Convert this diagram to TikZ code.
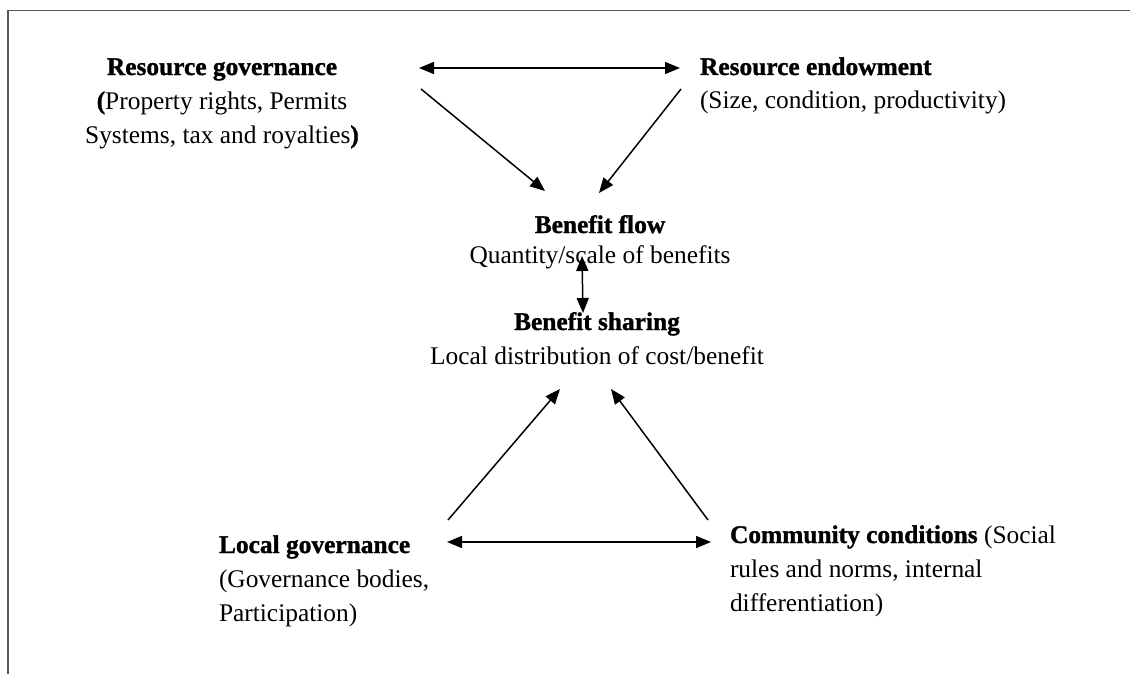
\documentclass[tikz,border=0pt]{standalone}
\usepackage{fontspec}
\setmainfont[BoldFeatures={FakeBold=1.2}]{Liberation Serif}
\usetikzlibrary{arrows.meta}
\newcommand{\fst}{\rule{0pt}{20pt}}
\tikzset{
  lbl/.style={inner sep=0pt, outer sep=0pt, font=\fontsize{25.4}{34}\selectfont, text=black},
  arr/.style={line width=1.5pt, -{Triangle[length=15pt,width=12pt]}},
  darr/.style={line width=1.5pt, {Triangle[length=15pt,width=12pt]}-{Triangle[length=15pt,width=12pt]}},
  frame/.style={line width=1.5pt, draw=black!65}
}
\begin{document}
\begin{tikzpicture}[x=1pt,y=-1pt]
\useasboundingbox (0,0) rectangle (1130,674);
% frame
\coordinate (fa) at (8,674);
\coordinate (fb) at (8,10.5);
\coordinate (fc) at (1130,10.5);
\draw[frame] (fa) -- (fb) -- (fc);

% text blocks
\node[lbl, anchor=north, align=center] (rg) at (222,55)
  {\fst\textbf{Resource governance}\\\textbf{(}Property rights, Permits\\Systems, tax and royalties\textbf{)}};
\node[lbl, anchor=north west, align=left] (re) at (700,55)
  {\fst\textbf{Resource endowment}\\(Size, condition, productivity)};
\node[lbl, anchor=north, align=center] (bf) at (600,213)
  {\fst\textbf{Benefit flow}\\[-4pt]Quantity/scale of benefits};
\node[lbl, anchor=north, align=center] (bs) at (597,310)
  {\fst\textbf{Benefit sharing}\\Local distribution of cost/benefit};
\node[lbl, anchor=north west, align=left] (lg) at (219,533)
  {\fst\textbf{Local governance}\\(Governance bodies,\\Participation)};
\node[lbl, anchor=north west, align=left] (cc) at (730,523)
  {\fst\textbf{Community conditions} (Social\\rules and norms, internal\\differentiation)};

% connector end points
\coordinate (t1) at (419,68);
\coordinate (t2) at (680,68);
\coordinate (d1s) at (421,89);
\coordinate (d1e) at (545,191);
\coordinate (d2s) at (681,89);
\coordinate (d2e) at (599,193);
\coordinate (v1) at (582,256);
\coordinate (v2) at (583,313);
\coordinate (b1s) at (448,520);
\coordinate (b1e) at (560,389);
\coordinate (b2s) at (708,520);
\coordinate (b2e) at (611,389);
\coordinate (h1) at (447,542);
\coordinate (h2) at (711,542);

\draw[darr] (t1) -- (t2);
\draw[arr] (d1s) -- (d1e);
\draw[arr] (d2s) -- (d2e);
\draw[darr] (v1) -- (v2);
\draw[arr] (b1s) -- (b1e);
\draw[arr] (b2s) -- (b2e);
\draw[darr] (h1) -- (h2);
\end{tikzpicture}
\end{document}
